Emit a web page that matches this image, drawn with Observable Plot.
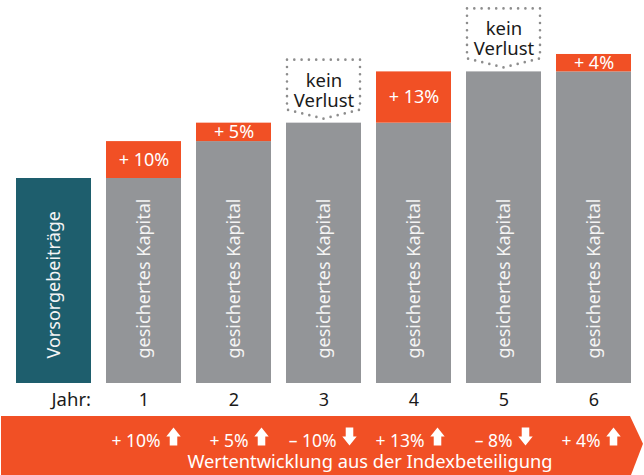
<!DOCTYPE html>
<html><head><meta charset="utf-8">
<script src="https://cdn.jsdelivr.net/npm/d3@7"></script>
<script src="https://cdn.jsdelivr.net/npm/@observablehq/plot@0.6"></script>
<style>
body{margin:0;background:#fff;font-family:"Noto Sans",sans-serif;}
#wrap{width:644px;}
#band{width:644px;height:59px;background:#f15025;clip-path:polygon(1px 0,630px 0,643px 47%,631px 100%,1px 100%);}
#band svg, #chart svg{display:block;}
</style></head><body><div id="wrap"><div id="chart"></div><div id="band"></div></div>
<script>
// ---- data ----
const categories = ["V", "1", "2", "3", "4", "5", "6"];
const yearLabels = ["Jahr:", "1", "2", "3", "4", "5", "6"];
const secured = [100, 100, 118, 127, 127, 152, 152];
const gains = [0, 18, 9, 0, 25, 0, 8.5];
const gainLabels = ["", "+ 10%", "+ 5%", "", "+ 13%", "", "+ 4%"];
const barLabels = ["Vorsorgebeiträge", "gesichertes Kapital", "gesichertes Kapital", "gesichertes Kapital", "gesichertes Kapital", "gesichertes Kapital", "gesichertes Kapital"];
const noLossLabel = "kein\nVerlust";
const indexChanges = ["", "+ 10%", "+ 5%", "– 10%", "+ 13%", "– 8%", "+ 4%"];
const directions = ["", "up", "up", "down", "up", "down", "up"];
const bandTitle = "Wertentwicklung aus der Indexbeteiligung";

const ORANGE = "#f15025", GREY = "#939598", TEAL = "#1e5e6d";
const idx = d3.range(categories.length);
const xOpts = {domain: categories, range: [13, 634], paddingInner: 0.163, paddingOuter: 0};

function noLossBoxes(index, scales) {
  const X = (scales.scales && scales.scales.x) || scales.x;
  const Y = (scales.scales && scales.scales.y) || scales.y;
  const xf = typeof X === "function" ? X : (v => X.apply(v));
  const yf = typeof Y === "function" ? Y : (v => Y.apply(v));
  const bw = typeof X.bandwidth === "function" ? X.bandwidth() : X.bandwidth;
  const g = d3.create("svg:g")
    .attr("fill", "none").attr("stroke", "#8d8d8d").attr("stroke-width", 2.6)
    .attr("stroke-linecap", "round").attr("stroke-dasharray", "0 7.3");
  idx.filter(i => i > 0 && gains[i] === 0).forEach(i => {
    const x0 = xf(categories[i]) + 1, x1 = xf(categories[i]) + bw - 1, xc = (x0 + x1) / 2;
    const t = yf(secured[i]);
    g.append("path").attr("d", `M${x0},${t - 63}H${x1}V${t - 13}L${xc},${t - 4}L${x0},${t - 13}Z`);
  });
  return g.node();
}

const chart = Plot.plot({
  width: 644, height: 416,
  marginTop: 14, marginBottom: 33, marginLeft: 0, marginRight: 0,
  style: {fontFamily: "Noto Sans, sans-serif", fontSize: "18px", background: "transparent"},
  x: {...xOpts, axis: null},
  y: {domain: [0, 180], axis: null},
  marks: [
    Plot.barY(idx, {x: i => categories[i], y1: 0, y2: i => secured[i], fill: i => i === 0 ? TEAL : GREY}),
    Plot.barY(idx.filter(i => gains[i] > 0), {x: i => categories[i], y1: i => secured[i], y2: i => secured[i] + gains[i], fill: ORANGE}),
    Plot.text(idx.filter(i => gains[i] > 0), {x: i => categories[i], y: i => secured[i] + gains[i] / 2, text: i => gainLabels[i], fill: "white", fontSize: 18}),
    Plot.text(idx, {x: i => categories[i], y: 0, text: i => barLabels[i], rotate: -90, textAnchor: "start", dy: -25, fill: "#f4f4f4", fontSize: 18}),
    noLossBoxes,
    Plot.text(idx.filter(i => i > 0 && gains[i] === 0), {x: i => categories[i], y: i => secured[i], text: () => noLossLabel, dy: -33, lineHeight: 1.08, fill: "#1a1a1a", fontSize: 18.5}),
    Plot.text(idx.filter(i => i > 0), {x: i => categories[i], y: 0, text: i => yearLabels[i], dy: 17, fill: "#1a1a1a", fontSize: 18}),
    Plot.text([0], {x: i => categories[i], y: 0, text: i => yearLabels[i], dy: 17, dx: 37, textAnchor: "end", fill: "#1a1a1a", fontSize: 18.5})
  ]
});
document.getElementById("chart").append(chart);

const upArrow = {draw(ctx, size) {
  const r = Math.sqrt(size / Math.PI);
  const hw = 0.8 * r, sw = 0.42 * r;
  ctx.moveTo(0, -r); ctx.lineTo(hw, 0); ctx.lineTo(sw, 0); ctx.lineTo(sw, r);
  ctx.lineTo(-sw, r); ctx.lineTo(-sw, 0); ctx.lineTo(-hw, 0); ctx.closePath();
}};
const downArrow = {draw(ctx, size) {
  const r = Math.sqrt(size / Math.PI);
  const hw = 0.8 * r, sw = 0.42 * r;
  ctx.moveTo(0, r); ctx.lineTo(hw, 0); ctx.lineTo(sw, 0); ctx.lineTo(sw, -r);
  ctx.lineTo(-sw, -r); ctx.lineTo(-sw, 0); ctx.lineTo(-hw, 0); ctx.closePath();
}};

const band = Plot.plot({
  width: 644, height: 59, margin: 0,
  style: {fontFamily: "Noto Sans, sans-serif", fontSize: "17px", background: "transparent", overflow: "visible"},
  x: {...xOpts, axis: null},
  marks: [
    Plot.text(idx.filter(i => i > 0), {x: i => categories[i], text: i => indexChanges[i], textAnchor: "end", dx: 12, dy: -5, fill: "white", fontSize: 17.5}),
    Plot.dot(idx.filter(i => directions[i] === "up"), {x: i => categories[i], dx: 25, dy: -9.5, r: 9, symbol: upArrow, fill: "white", stroke: "none"}),
    Plot.dot(idx.filter(i => directions[i] === "down"), {x: i => categories[i], dx: 25, dy: -9.5, r: 9, symbol: downArrow, fill: "white", stroke: "none"}),
    Plot.text([3], {x: i => categories[i], text: () => bandTitle, dx: 45.5, dy: 16.5, fill: "white", fontSize: 18.3})
  ]
});
document.getElementById("band").append(band);
</script>
</body></html>
